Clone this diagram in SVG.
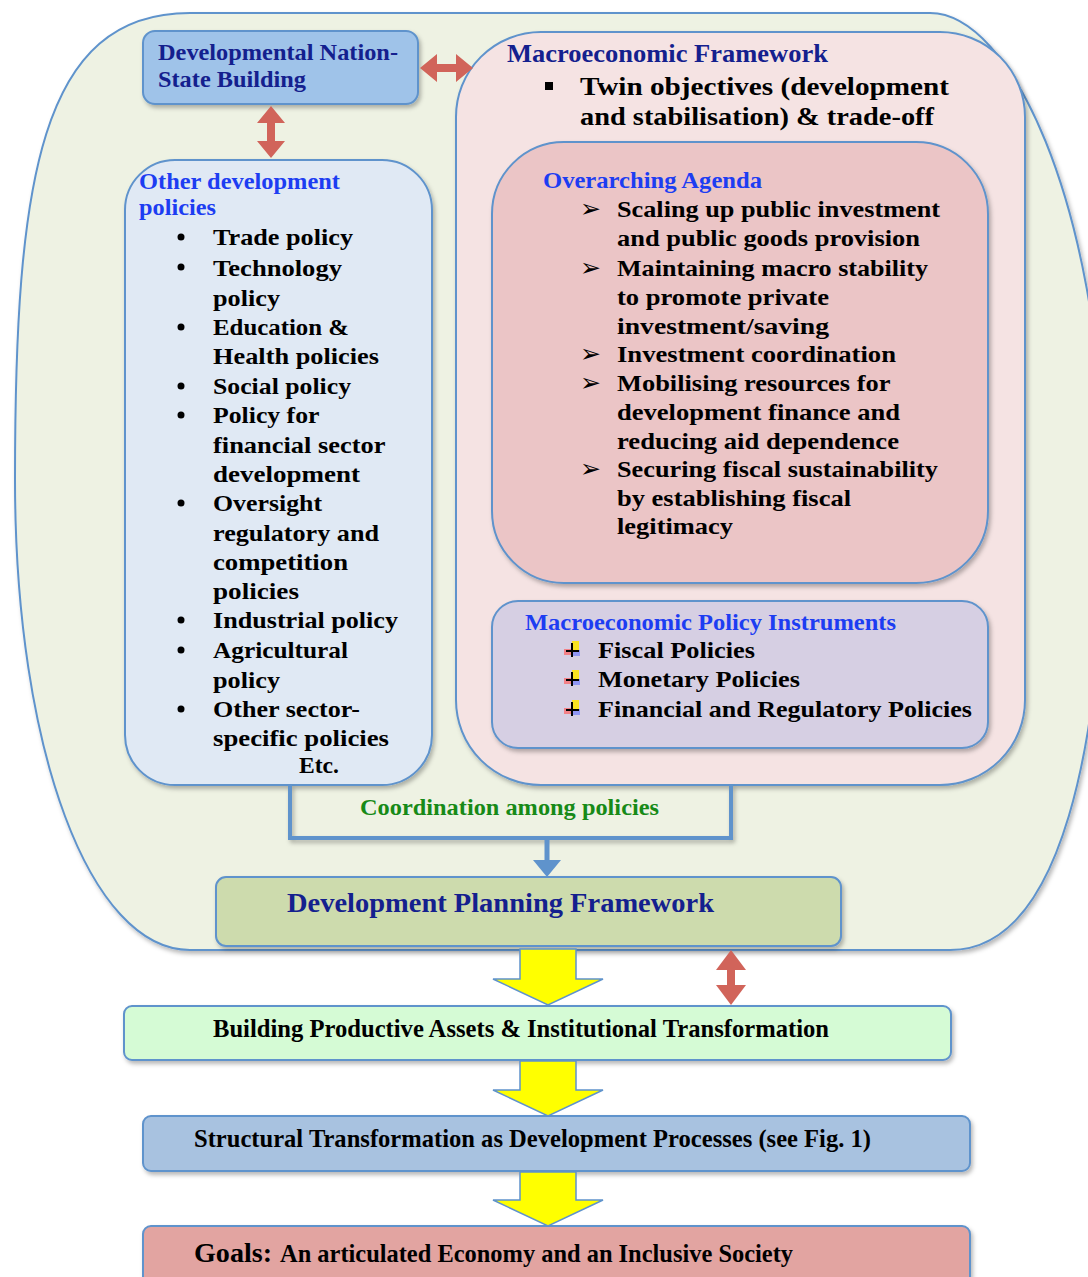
<svg xmlns="http://www.w3.org/2000/svg" width="1088" height="1277" viewBox="0 0 1088 1277">
<defs>
<filter id="sh" x="-10%" y="-10%" width="130%" height="130%">
<feDropShadow dx="2" dy="3" stdDeviation="2" flood-color="#000" flood-opacity="0.28"/>
</filter>
<style>
.box{stroke:#5f93cc;stroke-width:2;filter:url(#sh)}
.t{font-family:"Liberation Serif","Times New Roman",serif;font-weight:bold}
.navy{fill:#14208e}
.blue{fill:#1d3df2}
.blk{fill:#000}
.arw{font-family:"DejaVu Sans",sans-serif;font-size:25px;fill:#000}
.red{fill:#d1645a}
.yel{fill:#ffff00;stroke:#5f93cc;stroke-width:1.5}
</style>
</defs>
<rect width="1088" height="1277" fill="#fff"/>

<g id="outer">
<path d="M 190 13 L 930 13 C 1010 13 1100 200 1105 480 C 1105 750 1060 950 950 950 L 190 950 C 90 950 15 750 15 480 C 15 180 40 13 190 13 Z" fill="#eef2e3" stroke="#5f93cc" stroke-width="2" filter="url(#sh)"/>
</g>

<g id="macro-framework">
<rect class="box" x="456" y="32" width="569" height="753" rx="85" ry="85" fill="#f5e3e3"/>
<text class="t navy" x="507" y="62" font-size="25" textLength="321" lengthAdjust="spacingAndGlyphs">Macroeconomic Framework</text>
<rect x="545" y="82" width="8" height="8" fill="#000"/>
<text class="t blk" font-size="26">
<tspan x="580" y="95" textLength="369" lengthAdjust="spacingAndGlyphs">Twin objectives (development</tspan>
<tspan x="580" y="125" textLength="354" lengthAdjust="spacingAndGlyphs">and stabilisation) &amp; trade-off</tspan>
</text>
</g>

<g id="overarching-agenda">
<rect class="box" x="492" y="142" width="496" height="441" rx="72" ry="72" fill="#ebc5c6"/>
<text class="t blue" x="543" y="188" font-size="23" textLength="219" lengthAdjust="spacingAndGlyphs">Overarching Agenda</text>
<text class="arw" x="580" y="217">➢</text>
<text class="arw" x="580" y="276">➢</text>
<text class="arw" x="580" y="362">➢</text>
<text class="arw" x="580" y="391">➢</text>
<text class="arw" x="580" y="477">➢</text>
<text class="t blk" font-size="24">
<tspan x="617" y="217" textLength="323" lengthAdjust="spacingAndGlyphs">Scaling up public investment</tspan>
<tspan x="617" y="246" textLength="303" lengthAdjust="spacingAndGlyphs">and public goods provision</tspan>
<tspan x="617" y="276" textLength="311" lengthAdjust="spacingAndGlyphs">Maintaining macro stability</tspan>
<tspan x="617" y="305" textLength="212" lengthAdjust="spacingAndGlyphs">to promote private</tspan>
<tspan x="617" y="334" textLength="212" lengthAdjust="spacingAndGlyphs">investment/saving</tspan>
<tspan x="617" y="362" textLength="279" lengthAdjust="spacingAndGlyphs">Investment coordination</tspan>
<tspan x="617" y="391" textLength="273" lengthAdjust="spacingAndGlyphs">Mobilising resources for</tspan>
<tspan x="617" y="420" textLength="283" lengthAdjust="spacingAndGlyphs">development finance and</tspan>
<tspan x="617" y="449" textLength="282" lengthAdjust="spacingAndGlyphs">reducing aid dependence</tspan>
<tspan x="617" y="477" textLength="321" lengthAdjust="spacingAndGlyphs">Securing fiscal sustainability</tspan>
<tspan x="617" y="506" textLength="234" lengthAdjust="spacingAndGlyphs">by establishing fiscal</tspan>
<tspan x="617" y="534" textLength="116" lengthAdjust="spacingAndGlyphs">legitimacy</tspan>
</text>
</g>

<g id="policy-instruments">
<rect class="box" x="492" y="601" width="496" height="147" rx="26" ry="26" fill="#d6cfe3"/>
<text class="t blue" x="525" y="630" font-size="23" textLength="371" lengthAdjust="spacingAndGlyphs">Macroeconomic Policy Instruments</text>
<g id="bul1" transform="translate(0,658)">
<rect x="572" y="-17" width="7" height="9" fill="#ffe600" opacity="0.85"/>
<rect x="564" y="-9" width="8" height="6" fill="#ff6060" opacity="0.7"/>
<rect x="572" y="-8" width="8" height="6" fill="#6070ff" opacity="0.6"/>
<path d="M572 -15 V-1 M566 -7 H579" stroke="#000" stroke-width="2"/>
</g>
<use href="#bul1" transform="translate(0,29)"/>
<use href="#bul1" transform="translate(0,59)"/>
<text class="t blk" font-size="24">
<tspan x="598" y="658" textLength="157" lengthAdjust="spacingAndGlyphs">Fiscal Policies</tspan>
<tspan x="598" y="687" textLength="202" lengthAdjust="spacingAndGlyphs">Monetary Policies</tspan>
<tspan x="598" y="717" textLength="374" lengthAdjust="spacingAndGlyphs">Financial and Regulatory Policies</tspan>
</text>
</g>

<g id="nation-state">
<rect class="box" x="143" y="31" width="275" height="73" rx="12" ry="12" fill="#9fc3e9"/>
<text class="t navy" font-size="23">
<tspan x="158" y="60" textLength="240" lengthAdjust="spacingAndGlyphs">Developmental Nation-</tspan>
<tspan x="158" y="87" textLength="148" lengthAdjust="spacingAndGlyphs">State Building</tspan>
</text>
</g>

<g id="other-policies">
<rect class="box" x="125" y="160" width="307" height="625" rx="50" ry="50" fill="#e0e9f4"/>
<text class="t blue" font-size="23">
<tspan x="139" y="189" textLength="201" lengthAdjust="spacingAndGlyphs">Other development</tspan>
<tspan x="139" y="215" textLength="77" lengthAdjust="spacingAndGlyphs">policies</tspan>
</text>
<g fill="#000">
<circle cx="181" cy="237" r="3.5"/>
<circle cx="181" cy="267" r="3.5"/>
<circle cx="181" cy="327" r="3.5"/>
<circle cx="181" cy="386" r="3.5"/>
<circle cx="181" cy="415" r="3.5"/>
<circle cx="181" cy="503" r="3.5"/>
<circle cx="181" cy="620" r="3.5"/>
<circle cx="181" cy="650" r="3.5"/>
<circle cx="181" cy="709" r="3.5"/>
</g>
<text class="t blk" font-size="24">
<tspan x="213" y="245" textLength="140" lengthAdjust="spacingAndGlyphs">Trade policy</tspan>
<tspan x="213" y="276" textLength="129" lengthAdjust="spacingAndGlyphs">Technology</tspan>
<tspan x="213" y="306" textLength="67" lengthAdjust="spacingAndGlyphs">policy</tspan>
<tspan x="213" y="335" textLength="136" lengthAdjust="spacingAndGlyphs">Education &amp;</tspan>
<tspan x="213" y="364" textLength="166" lengthAdjust="spacingAndGlyphs">Health policies</tspan>
<tspan x="213" y="394" textLength="138" lengthAdjust="spacingAndGlyphs">Social policy</tspan>
<tspan x="213" y="423" textLength="106" lengthAdjust="spacingAndGlyphs">Policy for</tspan>
<tspan x="213" y="453" textLength="172" lengthAdjust="spacingAndGlyphs">financial sector</tspan>
<tspan x="213" y="482" textLength="147" lengthAdjust="spacingAndGlyphs">development</tspan>
<tspan x="213" y="511" textLength="109" lengthAdjust="spacingAndGlyphs">Oversight</tspan>
<tspan x="213" y="541" textLength="166" lengthAdjust="spacingAndGlyphs">regulatory and</tspan>
<tspan x="213" y="570" textLength="135" lengthAdjust="spacingAndGlyphs">competition</tspan>
<tspan x="213" y="599" textLength="86" lengthAdjust="spacingAndGlyphs">policies</tspan>
<tspan x="213" y="628" textLength="185" lengthAdjust="spacingAndGlyphs">Industrial policy</tspan>
<tspan x="213" y="658" textLength="135" lengthAdjust="spacingAndGlyphs">Agricultural</tspan>
<tspan x="213" y="688" textLength="67" lengthAdjust="spacingAndGlyphs">policy</tspan>
<tspan x="213" y="717" textLength="147" lengthAdjust="spacingAndGlyphs">Other sector-</tspan>
<tspan x="213" y="746" textLength="176" lengthAdjust="spacingAndGlyphs">specific policies</tspan>
<tspan x="299" y="773" textLength="40" lengthAdjust="spacingAndGlyphs">Etc.</tspan>
</text>
</g>

<g id="dev-planning">
<rect class="box" x="216" y="877" width="625" height="69" rx="10" ry="10" fill="#cddbad"/>
<text class="t navy" x="287" y="912" font-size="28" textLength="427" lengthAdjust="spacingAndGlyphs">Development Planning Framework</text>
</g>

<g id="building">
<rect class="box" x="124" y="1006" width="827" height="54" rx="8" ry="8" fill="#d5fbd5"/>
<text class="t blk" x="213" y="1037" font-size="25" textLength="616" lengthAdjust="spacingAndGlyphs">Building Productive Assets &amp; Institutional Transformation</text>
</g>

<g id="structural">
<rect class="box" x="143" y="1116" width="827" height="55" rx="8" ry="8" fill="#a8c2e0"/>
<text class="t blk" x="194" y="1147" font-size="25" textLength="677" lengthAdjust="spacingAndGlyphs">Structural Transformation as Development Processes (see Fig. 1)</text>
</g>

<g id="goals">
<rect class="box" x="143" y="1226" width="827" height="60" rx="8" ry="8" fill="#e2a4a1"/>
<text class="t blk" y="1262"><tspan x="194" font-size="28" textLength="78" lengthAdjust="spacingAndGlyphs">Goals:</tspan><tspan x="280" font-size="25" textLength="513" lengthAdjust="spacingAndGlyphs">An articulated Economy and an Inclusive Society</tspan></text>
</g>

<g id="connectors">
<text class="t" x="360" y="815" font-size="23" fill="#178a17" textLength="299" lengthAdjust="spacingAndGlyphs">Coordination among policies</text>
<path d="M290 785 V838 H731 V785" fill="none" stroke="#5f93cc" stroke-width="4" filter="url(#sh)"/>
<line x1="547" y1="838" x2="547" y2="862" stroke="#5f93cc" stroke-width="5"/>
<polygon points="533,860 561,860 547,877" fill="#5f93cc"/>
<polygon class="red" points="420,68 437,54 437,64 456,64 456,54 473,68 456,82 456,72 437,72 437,82"/>
<polygon class="red" points="271,106 285,123 275,123 275,141 285,141 271,158 257,141 267,141 267,123 257,123"/>
<polygon class="red" points="731,950 746,970 735,970 735,985 746,985 731,1005 716,985 727,985 727,970 716,970"/>
<polygon class="yel" points="520,949 576,949 576,979 603,979 548,1005 493,979 520,979"/>
<polygon class="yel" points="520,1061 576,1061 576,1090 603,1090 548,1116 493,1090 520,1090"/>
<polygon class="yel" points="520,1172 576,1172 576,1200 603,1200 548,1226 493,1200 520,1200"/>
</g>
</svg>
